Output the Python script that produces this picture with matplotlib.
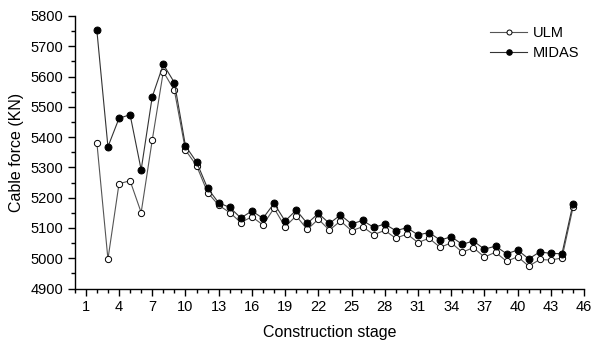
import numpy as np
import matplotlib
matplotlib.use('Agg')
import matplotlib.pyplot as plt
from matplotlib.ticker import MultipleLocator

plt.rcParams['font.family'] = ['Liberation Sans', 'DejaVu Sans']

# Construction stages and cable forces (KN)
stage = list(range(2, 46))
ulm = [5382, 4997, 5246, 5256, 5151, 5390, 5616, 5554, 5357, 5306,
       5217, 5175, 5151, 5118, 5137, 5110, 5165, 5104, 5140, 5095,
       5129, 5093, 5123, 5091, 5104, 5078, 5092, 5066, 5080, 5052,
       5066, 5036, 5051, 5020, 5035, 5004, 5020, 4990, 5005, 4974,
       4996, 4994, 5001, 5168]
midas = [5752, 5368, 5462, 5474, 5292, 5533, 5640, 5580, 5371, 5318,
         5231, 5183, 5168, 5133, 5156, 5132, 5181, 5123, 5159, 5115,
         5148, 5115, 5143, 5113, 5125, 5102, 5113, 5091, 5101, 5077,
         5085, 5060, 5071, 5046, 5057, 5030, 5040, 5015, 5027, 4998,
         5021, 5016, 5015, 5180]

fig = plt.figure(figsize=(5.93, 3.46), dpi=100)
ax = fig.add_axes([0.126, 0.166, 0.859, 0.788])

ax.plot(stage, ulm, '-o', color='#555555', lw=0.8, ms=4.5,
        mfc='white', mec='black', mew=0.7, label='ULM')
ax.plot(stage, midas, '-o', color='#333333', lw=0.8, ms=5,
        mfc='black', mec='black', mew=0.7, label='MIDAS')

ax.set_xlim(0, 46)
ax.set_ylim(4900, 5800)
ax.set_xticks(range(1, 47, 3))
ax.xaxis.set_minor_locator(MultipleLocator(1))
ax.yaxis.set_major_locator(MultipleLocator(100))
ax.yaxis.set_minor_locator(MultipleLocator(50))

for s in ['top', 'right']:
    ax.spines[s].set_visible(False)
for s in ['left', 'bottom']:
    ax.spines[s].set_linewidth(1.0)

ax.tick_params(which='major', direction='out', length=5, width=1, labelsize=10.5)
ax.tick_params(which='minor', direction='out', length=3, width=1)

ax.set_xlabel('Construction stage', fontsize=11.5, labelpad=8)
ax.set_ylabel('Cable force (KN)', fontsize=11.5, labelpad=4)

ax.legend(loc='upper right', bbox_to_anchor=(1.016, 1.01), frameon=False,
          fontsize=10.5, handlelength=2.5, handletextpad=0.4,
          labelspacing=0.4, markerscale=0.8)

fig.savefig('out.png', dpi=100)
